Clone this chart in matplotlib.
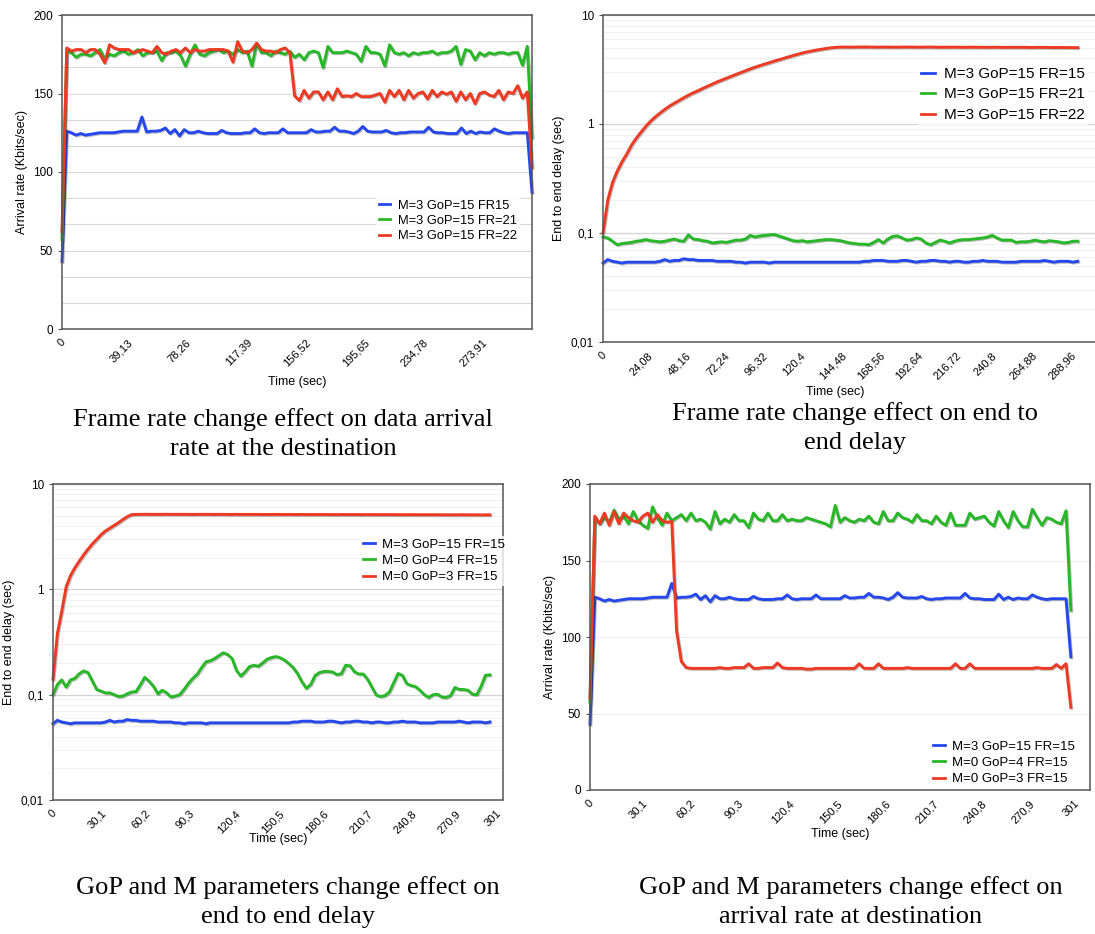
import numpy as np
import matplotlib
matplotlib.use("Agg")
import matplotlib.pyplot as plt
import matplotlib.patheffects as pe
from matplotlib.ticker import FixedLocator, NullFormatter

plt.rcParams['font.family'] = ['Liberation Sans', 'DejaVu Sans']

# ---- data ----
# arrival rate (Kbits/sec), M=3 GoP=15 FR=15 (same run in panels 1 and 4)
arrival_m3_fr15 = [
    43, 126, 125, 123.5, 124.5, 123.5, 124, 124.5, 125, 125,
    125, 125, 125.5, 126, 126, 126, 126, 135, 125.5, 126,
    126, 126.5, 128, 124.5, 127, 123, 127, 125, 125, 126,
    125, 124.5, 124.5, 124.5, 126.5, 125, 124.5, 124.5, 124.5, 125,
    125, 127.5, 125, 124.5, 125, 125, 125, 127.5, 125, 125,
    125, 125, 125, 127, 125.5, 125.5, 126, 126, 128.5, 126,
    126, 125.5, 124.5, 126, 129, 126, 125.5, 125.5, 125.5, 126.5,
    125, 124.5, 125, 125, 125.5, 125.5, 125.5, 125.5, 128.5, 125.5,
    125, 125, 124.5, 124.5, 124.5, 128, 124.5, 126, 124.5, 125.5,
    125, 125, 127.5, 126, 125, 124.5, 125, 125, 125, 125,
    87]
arrival_m3_fr21 = [
    57, 177, 176, 173, 175, 175, 174, 176, 178, 172,
    175, 174, 176, 177, 175, 176, 178, 174, 176, 176,
    177, 171, 176, 176, 177, 174, 167.5, 175, 181, 175,
    174, 176, 177, 178, 176, 177, 175, 178, 176, 177,
    167.5, 182, 176, 176, 174, 177, 176, 175, 177, 173,
    175, 171.5, 176, 177, 176, 166.5, 180, 176, 176, 176,
    177, 176, 175, 170.5, 180, 176, 176, 175, 167.5, 181,
    176, 175, 176, 174, 176, 175, 176, 176, 177, 175,
    176, 176, 177, 180, 168.5, 178, 177, 171.5, 176, 174,
    176, 175, 176, 176, 175, 176, 176, 168, 180, 122]
arrival_m3_fr22 = [
    62, 179, 177, 178, 178, 176, 178, 178, 175, 169.5,
    181, 179, 178, 178, 178, 176, 177, 178, 177, 176,
    180, 176, 175, 177, 178, 176, 179, 176, 178, 177,
    177, 178, 178, 178, 178, 177, 170, 183, 177, 176,
    178, 182, 178, 177, 177, 176, 178, 179, 176, 148.5,
    145.5, 152, 147, 151, 151, 146, 151, 146, 153, 148,
    148.5, 148, 150, 148, 148, 148, 149, 150, 144.5, 152,
    148, 152, 146, 152, 147, 150, 151, 146.5, 152, 148,
    151, 149.5, 151, 145, 151, 146, 150, 143.5, 150, 151,
    149, 148, 152, 146, 151, 150, 155, 147, 151, 103]
arrival_m0_gop4 = [
    57, 178, 174, 178, 175, 183, 177, 179, 174, 182,
    176, 173, 171, 185, 178, 173, 181, 176, 178, 180,
    176, 181, 176, 177, 175, 170.5, 182, 174, 177, 175,
    180, 176, 176, 171.5, 181, 177, 176, 181, 176, 176,
    180, 176, 177, 176, 176, 178, 177, 176, 175, 174,
    172, 186, 175, 178, 176, 175, 177, 176, 179, 175,
    174, 182, 176, 176, 181, 178, 177, 175, 180, 176,
    176, 174, 179, 175, 173, 181, 173, 173, 173, 181,
    177, 178, 179, 175, 172.5, 182, 176, 171.5, 182, 176,
    172, 172, 183.5, 178, 173, 178, 177, 175, 174, 182.5,
    117.5]
arrival_m0_gop3 = [
    60, 179, 174, 181, 173, 182, 174, 181, 178, 176,
    175, 179, 181, 175, 180, 176, 175, 175.5, 104, 84,
    80, 79.5, 79.5, 79.5, 79.5, 79.5, 79.5, 80, 79.5, 79.5,
    80, 80, 80, 82.5, 79.5, 79.5, 80, 80, 80, 83,
    80, 79.5, 79.5, 79.5, 79.5, 79, 79, 79.5, 79.5, 79.5,
    79.5, 79.5, 79.5, 79.5, 79.5, 79.5, 82.5, 79.5, 79.5, 79.5,
    82.5, 79.5, 79.5, 79.5, 79.5, 79.5, 80, 79.5, 79.5, 79.5,
    79.5, 79.5, 79.5, 79.5, 79.5, 79.5, 82.5, 79.5, 79.5, 82.5,
    79.5, 79.5, 79.5, 79.5, 79.5, 79.5, 79.5, 79.5, 79.5, 79.5,
    79.5, 79.5, 79.5, 80, 79.5, 79.5, 79.5, 82, 79.5, 82.5,
    54]

# end to end delay (sec)
delay_m3_fr15 = [
    0.053, 0.057, 0.055, 0.054, 0.053, 0.054, 0.054, 0.054, 0.054, 0.054,
    0.054, 0.054, 0.055, 0.057, 0.055, 0.056, 0.056, 0.058, 0.057, 0.057,
    0.056, 0.056, 0.056, 0.056, 0.055, 0.055, 0.055, 0.055, 0.054, 0.054,
    0.053, 0.054, 0.054, 0.054, 0.054, 0.053, 0.054, 0.054, 0.054, 0.054,
    0.054, 0.054, 0.054, 0.054, 0.054, 0.054, 0.054, 0.054, 0.054, 0.054,
    0.054, 0.054, 0.054, 0.054, 0.054, 0.055, 0.055, 0.056, 0.056, 0.056,
    0.055, 0.055, 0.055, 0.056, 0.056, 0.055, 0.054, 0.055, 0.055, 0.056,
    0.056, 0.055, 0.055, 0.054, 0.055, 0.055, 0.054, 0.054, 0.055, 0.055,
    0.056, 0.055, 0.055, 0.055, 0.054, 0.054, 0.054, 0.054, 0.055, 0.055,
    0.055, 0.055, 0.055, 0.056, 0.055, 0.054, 0.055, 0.055, 0.055, 0.054,
    0.055]
delay_m3_fr21 = [
    0.092, 0.090, 0.084, 0.078, 0.080, 0.081, 0.082, 0.084, 0.085, 0.087,
    0.085, 0.084, 0.083, 0.084, 0.086, 0.088, 0.085, 0.084, 0.096, 0.088,
    0.087, 0.085, 0.084, 0.081, 0.082, 0.083, 0.082, 0.084, 0.086, 0.086,
    0.088, 0.095, 0.092, 0.094, 0.095, 0.096, 0.097, 0.094, 0.091, 0.088,
    0.085, 0.084, 0.085, 0.083, 0.084, 0.085, 0.086, 0.087, 0.087, 0.086,
    0.085, 0.083, 0.081, 0.080, 0.079, 0.079, 0.078, 0.082, 0.087, 0.081,
    0.088, 0.093, 0.094, 0.090, 0.086, 0.087, 0.090, 0.088, 0.081, 0.078,
    0.082, 0.086, 0.084, 0.081, 0.084, 0.086, 0.087, 0.087, 0.088, 0.089,
    0.090, 0.092, 0.095, 0.090, 0.086, 0.086, 0.086, 0.082, 0.083, 0.083,
    0.084, 0.086, 0.084, 0.083, 0.085, 0.084, 0.083, 0.081, 0.082, 0.084,
    0.084]
delay_m3_fr22 = [
    0.10, 0.20, 0.29, 0.37, 0.45, 0.53, 0.64, 0.74, 0.84, 0.95,
    1.06, 1.16, 1.26, 1.36, 1.46, 1.55, 1.64, 1.74, 1.84, 1.93,
    2.02, 2.12, 2.22, 2.32, 2.43, 2.53, 2.63, 2.74, 2.85, 2.96,
    3.08, 3.20, 3.32, 3.43, 3.54, 3.65, 3.77, 3.88, 4.00, 4.12,
    4.24, 4.36, 4.48, 4.59, 4.68, 4.77, 4.85, 4.93, 5.00, 5.05,
    5.08, 5.08, 5.07, 5.08, 5.08, 5.09, 5.08, 5.08, 5.07, 5.08,
    5.08, 5.07, 5.07, 5.08, 5.08, 5.08, 5.07, 5.07, 5.08, 5.08,
    5.07, 5.06, 5.06, 5.07, 5.07, 5.06, 5.06, 5.06, 5.07, 5.06,
    5.06, 5.05, 5.06, 5.06, 5.05, 5.05, 5.05, 5.06, 5.05, 5.05,
    5.04, 5.04, 5.05, 5.04, 5.04, 5.03, 5.04, 5.03, 5.03, 5.02,
    5.02]
delay_m0_gop4 = [
    0.100, 0.125, 0.138, 0.118, 0.138, 0.143, 0.158, 0.168, 0.162, 0.135,
    0.112, 0.108, 0.104, 0.104, 0.100, 0.096, 0.097, 0.102, 0.106, 0.107,
    0.124, 0.146, 0.134, 0.120, 0.102, 0.110, 0.104, 0.095, 0.097, 0.100,
    0.112, 0.128, 0.143, 0.156, 0.180, 0.205, 0.210, 0.220, 0.235, 0.250,
    0.240, 0.220, 0.170, 0.150, 0.165, 0.185, 0.190, 0.186, 0.200, 0.217,
    0.225, 0.230, 0.224, 0.213, 0.197, 0.180, 0.158, 0.132, 0.115, 0.125,
    0.152, 0.162, 0.166, 0.166, 0.164, 0.155, 0.158, 0.190, 0.188, 0.165,
    0.157, 0.157, 0.140, 0.118, 0.099, 0.096, 0.098, 0.106, 0.130, 0.159,
    0.152, 0.127, 0.122, 0.119, 0.110, 0.100, 0.094, 0.100, 0.101, 0.095,
    0.094, 0.098, 0.117, 0.112, 0.112, 0.110, 0.101, 0.100, 0.120, 0.153,
    0.154]
delay_m0_gop3 = [
    0.14, 0.38, 0.62, 1.05, 1.35, 1.60, 1.85, 2.12, 2.40, 2.70,
    2.98, 3.30, 3.58, 3.80, 4.05, 4.30, 4.60, 4.90, 5.12, 5.15,
    5.15, 5.16, 5.15, 5.15, 5.15, 5.15, 5.16, 5.15, 5.15, 5.15,
    5.15, 5.15, 5.14, 5.15, 5.15, 5.15, 5.15, 5.14, 5.15, 5.15,
    5.14, 5.14, 5.15, 5.14, 5.14, 5.14, 5.14, 5.14, 5.13, 5.14,
    5.14, 5.14, 5.14, 5.13, 5.14, 5.13, 5.13, 5.14, 5.13, 5.13,
    5.13, 5.13, 5.13, 5.13, 5.13, 5.12, 5.13, 5.13, 5.12, 5.13,
    5.12, 5.12, 5.13, 5.12, 5.12, 5.12, 5.12, 5.12, 5.12, 5.11,
    5.12, 5.11, 5.12, 5.11, 5.11, 5.11, 5.11, 5.11, 5.11, 5.10,
    5.11, 5.10, 5.10, 5.10, 5.11, 5.10, 5.10, 5.10, 5.09, 5.10,
    5.10]

labels_fr = ["M=3 GoP=15 FR15", "M=3 GoP=15 FR=21", "M=3 GoP=15 FR=22"]
labels_fr_delay = ["M=3 GoP=15 FR=15", "M=3 GoP=15 FR=21", "M=3 GoP=15 FR=22"]
labels_gop = ["M=3 GoP=15 FR=15", "M=0 GoP=4 FR=15", "M=0 GoP=3 FR=15"]

captions = [
    "Frame rate change effect on data arrival\nrate at the destination",
    "Frame rate change effect on end to\nend delay",
    "GoP and M parameters change effect on\nend to end delay",
    "GoP and M parameters change effect on\narrival rate at destination",
]

# ---- layout ----
W, H = 1095, 934
colors = ['#2447ee', '#27b827', '#ee3a22']


def rect(x0, y0, x1, y1):
    return [x0 / W, 1 - y1 / H, (x1 - x0) / W, (y1 - y0) / H]


def fmt(v):
    return f"{round(v, 2):g}".replace('.', ',')


fig = plt.figure(figsize=(W / 100, H / 100), dpi=100)
shadow = [pe.SimpleLineShadow(offset=(0.7, -0.7), shadow_color='#222222', alpha=0.3), pe.Normal()]


def base(ax, xmax, step, nticks):
    for s in ax.spines.values():
        s.set_color('#555555')
        s.set_linewidth(1.1)
    ax.set_xlim(0, xmax)
    ticks = [step * k for k in range(nticks)]
    ax.set_xticks(ticks)
    ax.set_xticklabels([fmt(t) for t in ticks], rotation=45, ha='center', fontsize=8)
    ax.tick_params(axis='x', length=0, pad=6)
    ax.tick_params(axis='y', which='major', length=3, labelsize=8.5, color='#555555')
    ax.tick_params(axis='y', which='minor', length=0)
    ax.set_axisbelow(True)


def draw(ax, tend, series, labels, legend_xy, fs, spacing=0.3):
    for vals, c, lab in zip(series, colors, labels):
        t = np.linspace(0, tend, len(vals))
        ax.plot(t, vals, color=c, lw=2.1, label=lab, path_effects=shadow, clip_on=False)
    leg = ax.legend(loc='upper left', bbox_to_anchor=(legend_xy[0] / W, 1 - legend_xy[1] / H),
                    bbox_transform=fig.transFigure, fontsize=fs, frameon=True, fancybox=False,
                    handlelength=0.9, handletextpad=0.6, labelspacing=spacing, borderpad=0.2,
                    borderaxespad=0)
    leg.get_frame().set_edgecolor('none')
    leg.get_frame().set_facecolor('white')
    for h in leg.get_lines():
        h.set_path_effects([])
        h.set_linewidth(2)


def log_axis(ax):
    ax.set_yscale('log')
    ax.set_ylim(0.01, 10)
    ax.set_yticks([0.01, 0.1, 1, 10])
    ax.set_yticklabels(["0,01", "0,1", "1", "10"])
    ax.yaxis.set_minor_locator(FixedLocator([m * d for d in (0.01, 0.1, 1) for m in range(2, 10)]))
    ax.yaxis.set_minor_formatter(NullFormatter())
    ax.grid(True, which='minor', axis='y', color='#f0f0f0', lw=0.7)
    ax.grid(True, which='major', axis='y', color='#d4d4d4', lw=0.9)


# panel 1: arrival rate, frame rate change
ax1 = fig.add_axes(rect(62, 15, 532, 329))
base(ax1, 313, 39.13, 8)
ax1.set_ylim(0, 200)
ax1.set_yticks([0, 50, 100, 150, 200])
ax1.yaxis.set_minor_locator(FixedLocator([50 / 3 * k for k in range(1, 12)]))
ax1.grid(True, which='minor', axis='y', color='#d8d8d8', lw=0.8)
ax1.grid(True, which='major', axis='y', color='#d8d8d8', lw=0.8)
draw(ax1, 313, [arrival_m3_fr15, arrival_m3_fr21, arrival_m3_fr22], labels_fr, (376, 197), 9.3, 0.25)
ax1.set_ylabel("Arrival rate (Kbits/sec)", fontsize=9)
ax1.set_xlabel("Time (sec)", fontsize=9)
ax1.xaxis.set_label_coords(0.5, -0.15)

# panel 2: delay, frame rate change
ax2 = fig.add_axes(rect(603, 15, 1100, 342))
base(ax2, 313, 24.08, 13)
log_axis(ax2)
draw(ax2, 299, [delay_m3_fr15, delay_m3_fr21, delay_m3_fr22], labels_fr_delay, (918, 64), 11, 0.42)
ax2.set_ylabel("End to end delay (sec)", fontsize=9)
ax2.set_xlabel("Time (sec)", fontsize=9)
ax2.xaxis.set_label_coords(0.467, -0.135)

# panel 3: delay, GoP and M change
ax3 = fig.add_axes(rect(53, 484, 503, 800))
base(ax3, 308, 30.1, 11)
log_axis(ax3)
draw(ax3, 299, [delay_m3_fr15, delay_m0_gop4, delay_m0_gop3], labels_gop, (360, 536), 9.5)
ax3.set_ylabel("End to end delay (sec)", fontsize=9)
ax3.set_xlabel("Time (sec)", fontsize=9)
ax3.xaxis.set_label_coords(0.5, -0.105)

# panel 4: arrival rate, GoP and M change
ax4 = fig.add_axes(rect(590, 484, 1090, 790))
base(ax4, 313, 30.1, 11)
ax4.set_ylim(0, 200)
ax4.set_yticks([0, 50, 100, 150, 200])
ax4.grid(True, which='major', axis='y', color='#eeeeee', lw=0.8)
draw(ax4, 301, [arrival_m3_fr15, arrival_m0_gop4, arrival_m0_gop3], labels_gop, (930, 738), 9.5)
ax4.set_ylabel("Arrival rate (Kbits/sec)", fontsize=9)
ax4.set_xlabel("Time (sec)", fontsize=9)
ax4.xaxis.set_label_coords(0.5, -0.125)

# captions
for (cx, cy), txt in zip([(283, 434), (855, 428), (288, 902), (851, 902)], captions):
    fig.text(cx / W, 1 - cy / H, txt, ha='center', va='center', family='Liberation Serif',
             fontsize=19, linespacing=1.45)

plt.savefig("out.png", dpi=100)
